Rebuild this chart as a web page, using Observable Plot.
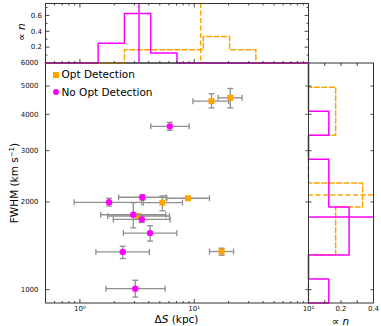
<!DOCTYPE html>
<html><head><meta charset="utf-8">
<script src="https://cdn.jsdelivr.net/npm/d3@7"></script>
<script src="https://cdn.jsdelivr.net/npm/@observablehq/plot@0.6"></script>
<style>
body{margin:0;background:#fff;font-family:"DejaVu Sans",sans-serif;}
#wrap{position:relative;width:381px;height:326px;overflow:hidden;background:#fff;}
#wrap svg{position:absolute;left:0;top:0;}
.lbl{position:absolute;white-space:nowrap;font-size:10.5px;line-height:1;color:#000;font-family:"DejaVu Sans",sans-serif;}
.mk{position:absolute;}
</style></head><body><div id="wrap"></div>
<script>
// ---- data ----
// Opt Detection (orange squares)
const optX   = [8.81, 5.27, 3.25, 17.36, 14.18, 20.7];
const optXlo = [5.76, 3.59, 1.75, 13.6, 9.74, 16.2];
const optXhi = [13.6, 7.90, 6.07, 22.1, 20.0, 26.2];
const optY   = [2060, 1989, 1790, 1352, 4437, 4557];
const optYlo = [2035, 1866, 1765, 1313, 4208, 4208];
const optYhi = [2085, 2098, 1815, 1388, 4703, 4906];
// No Opt Detection (magenta circles)
const noX   = [1.80, 3.52, 2.93, 3.48, 4.11, 2.37, 3.05, 6.12];
const noXlo = [0.891, 2.18, 1.52, 1.96, 2.40, 1.38, 1.69, 4.17];
const noXhi = [3.48, 5.68, 5.65, 6.16, 7.05, 4.05, 5.57, 9.04];
const noY   = [1995, 2076, 1808, 1743, 1564, 1348, 1008, 3637];
const noYlo = [1937, 2032, 1631, 1700, 1468, 1279, 943, 3524];
const noYhi = [2060, 2114, 1989, 1790, 1657, 1410, 1077, 3754];
// histograms (normalised counts) and bin edges
const xBinEdges  = [0.5, 0.849, 1.443, 2.451, 4.163, 7.071, 12.01, 20.40, 34.65, 58.85, 100];
const xHistOpt   = [0, 0, 0, 0.167, 0.167, 0.167, 0.333, 0.167, 0, 0];
const xHistNoOpt = [0, 0, 0.25, 0.625, 0.125, 0, 0, 0, 0, 0];
const yBinEdges  = [900, 1088, 1315, 1589, 1921, 2322, 2806, 3392, 4099, 4955, 6000];
const yHistOpt   = [0, 0, 0.167, 0.167, 0.333, 0, 0, 0.167, 0.167, 0];
const yHistNoOpt = [0.125, 0, 0.25, 0.25, 0.125, 0.125, 0, 0.125, 0, 0];
// medians [Opt, No Opt]
const medianX = [11.4, 3.29];
const medianY = [2115, 1775];
// ticks
const xMajorTicks = [1, 10, 100];
const xTickLabels = ["10⁰", "10¹", "10²"];
const xMinorTicks = [0.6,0.7,0.8,0.9,2,3,4,5,6,7,8,9,20,30,40,50,60,70,80,90];
const yTicks = [1000, 2000, 3000, 4000, 5000, 6000];
const histYTicks = [0.2, 0.4, 0.6];
const histYMinor = [0.1, 0.3, 0.5, 0.7];
const histXTicks = [0.2, 0.4];
const histXMinor = [0.1, 0.2, 0.3];

// ---- styling ----
const W = 381, H = 326;
const L = 45, R = 308, T = 62.5, B = 302.5, TT = 3, RR = 373;
const ORANGE = "#ffa500", MAGENTA = "#ff00ff", GRAY = "#8f8f8f", AXIS = "#333";
const DASH = "5,2.5";
const sym = (x1,y1,x2,y2) => ({draw(c){c.moveTo(x1,y1);c.lineTo(x2,y2);}});
const up = l => sym(0,0,0,-l), down = l => sym(0,0,0,l), toR = l => sym(0,0,l,0), toL = l => sym(0,0,-l,0);
const vCap = sym(0,-3,0,3), hCap = sym(-3,0,3,0);
const tk = (vals, ch, anchor, symbol) => Plot.dot(vals, {[ch]: d => d, frameAnchor: anchor, symbol, r: 1, fill: "none", stroke: AXIS, strokeWidth: 0.9});
const svgStyle = {background: "transparent", overflow: "visible", fontFamily: "DejaVu Sans, sans-serif", fontSize: "7px", color: "#111"};

const opt = optX.map((x,i) => ({x, xlo: optXlo[i], xhi: optXhi[i], y: optY[i], ylo: optYlo[i], yhi: optYhi[i]}));
const no  = noX.map((x,i) => ({x, xlo: noXlo[i], xhi: noXhi[i], y: noY[i], ylo: noYlo[i], yhi: noYhi[i]}));

function errMarks(data) {
  return [
    Plot.link(data, {x1: "xlo", x2: "xhi", y1: "y", y2: "y", stroke: GRAY, strokeWidth: 1.3}),
    Plot.link(data, {x1: "x", x2: "x", y1: "ylo", y2: "yhi", stroke: GRAY, strokeWidth: 1.3}),
    Plot.dot(data, {x: "xlo", y: "y", symbol: vCap, r: 1, fill: "none", stroke: GRAY, strokeWidth: 1.3}),
    Plot.dot(data, {x: "xhi", y: "y", symbol: vCap, r: 1, fill: "none", stroke: GRAY, strokeWidth: 1.3}),
    Plot.dot(data, {x: "x", y: "ylo", symbol: hCap, r: 1, fill: "none", stroke: GRAY, strokeWidth: 1.3}),
    Plot.dot(data, {x: "x", y: "yhi", symbol: hCap, r: 1, fill: "none", stroke: GRAY, strokeWidth: 1.3})
  ];
}

// step outline of a histogram
function stepX(edges, counts) {
  const pts = [{x: edges[0], y: 0}];
  counts.forEach((c,i) => { pts.push({x: edges[i], y: c}, {x: edges[i+1], y: c}); });
  pts.push({x: edges[edges.length-1], y: 0});
  return pts;
}
function stepY(edges, counts) {
  const pts = [{x: 0, y: edges[0]}];
  counts.forEach((c,i) => { pts.push({x: c, y: edges[i]}, {x: c, y: edges[i+1]}); });
  pts.push({x: 0, y: edges[edges.length-1]});
  return pts;
}

const main = Plot.plot({
  width: W, height: H, marginLeft: L, marginRight: W - R, marginTop: T, marginBottom: H - B,
  style: svgStyle,
  x: {type: "log", domain: [0.5, 100], ticks: xMajorTicks, tickFormat: d => xTickLabels[xMajorTicks.indexOf(d)], tickSize: 0, tickPadding: 3.5, label: null},
  y: {type: "log", domain: [900, 6000], ticks: yTicks, tickFormat: d => String(d), tickSize: 0, tickPadding: 7, label: null},
  marks: [
    ...errMarks(opt),
    Plot.dot(opt, {x: "x", y: "y", symbol: "square", r: 3.4, fill: ORANGE, stroke: "none"}),
    ...errMarks(no),
    Plot.dot(no, {x: "x", y: "y", symbol: "circle", r: 3.2, fill: MAGENTA, stroke: "none"}),
    tk(xMajorTicks.slice(0,2), "x", "bottom", up(4)),
    tk(xMinorTicks, "x", "bottom", up(2)),
    tk(yTicks, "y", "left", toR(4)),
    tk(yTicks.slice(0,5), "y", "right", toL(3)),
    Plot.frame({stroke: AXIS, strokeWidth: 1})
  ]
});

const topP = Plot.plot({
  width: W, height: H, marginLeft: L, marginRight: W - R, marginTop: TT, marginBottom: H - T,
  style: svgStyle,
  x: {type: "log", domain: [0.5, 100], axis: null},
  y: {domain: [0, 0.75], ticks: histYTicks, tickFormat: d => d.toFixed(1), tickSize: 0, tickPadding: 3.5, label: null},
  marks: [
    Plot.line(stepX(xBinEdges, xHistOpt), {x: "x", y: "y", stroke: ORANGE, strokeWidth: 1.5, strokeDasharray: DASH}),
    Plot.line(stepX(xBinEdges, xHistNoOpt), {x: "x", y: "y", stroke: MAGENTA, strokeWidth: 1.5}),
    Plot.ruleX([medianX[0]], {x: d => d, stroke: ORANGE, strokeWidth: 1.5, strokeDasharray: DASH}),
    Plot.ruleX([medianX[1]], {x: d => d, stroke: MAGENTA, strokeWidth: 1.5}),
    tk(xMajorTicks.slice(0,2), "x", "bottom", up(4)),
    tk(xMinorTicks, "x", "bottom", up(2)),
    tk(xMajorTicks.slice(0,2), "x", "top", down(4)),
    tk(xMinorTicks, "x", "top", down(2)),
    tk(histYTicks, "y", "left", toR(4)),
    tk(histYMinor, "y", "left", toR(2)),
    tk(histYTicks, "y", "right", toL(4)),
    tk(histYMinor, "y", "right", toL(2)),
    Plot.frame({stroke: AXIS, strokeWidth: 1})
  ]
});

const rightP = Plot.plot({
  width: W, height: H, marginLeft: R, marginRight: W - RR, marginTop: T, marginBottom: H - B,
  style: svgStyle,
  x: {domain: [0, 0.4], ticks: histXTicks, tickFormat: d => d.toFixed(1), tickSize: 0, tickPadding: 3.5, label: null},
  y: {type: "log", domain: [900, 6000], axis: null},
  marks: [
    Plot.line(stepY(yBinEdges, yHistOpt), {x: "x", y: "y", stroke: ORANGE, strokeWidth: 1.5, strokeDasharray: DASH}),
    Plot.line(stepY(yBinEdges, yHistNoOpt), {x: "x", y: "y", stroke: MAGENTA, strokeWidth: 1.5}),
    Plot.ruleY([medianY[0]], {y: d => d, stroke: ORANGE, strokeWidth: 1.5, strokeDasharray: DASH}),
    Plot.ruleY([medianY[1]], {y: d => d, stroke: MAGENTA, strokeWidth: 1.5}),
    tk(histXMinor, "x", "top", down(3)),
    tk(histXMinor, "x", "bottom", up(3)),
    tk(yTicks.slice(0,5), "y", "left", toR(3)),
    tk(yTicks.slice(0,5), "y", "right", toL(3)),
    Plot.frame({stroke: AXIS, strokeWidth: 1})
  ]
});

const wrap = document.getElementById("wrap");
wrap.append(main, topP, rightP);

// axis titles and legend as real text
function addLabel(html, cx, cy, rotate) {
  const d = document.createElement("div");
  d.className = "lbl";
  d.innerHTML = html;
  d.style.left = cx + "px";
  d.style.top = cy + "px";
  d.style.transform = "translate(-50%,-50%)" + (rotate ? " rotate(-90deg)" : "");
  wrap.append(d);
}
addLabel("FWHM (km s<sup style='font-size:7px;vertical-align:4px;line-height:0'>−1</sup>)", 14, 183, true);
addLabel("∝ <i>n</i>", 21, 32, true);
addLabel("Δ<i>S</i> (kpc)", 176.5, 319, false);
addLabel("∝ <i>n</i>", 340.5, 321, false);

const legendItems = [
  {text: "Opt Detection", color: ORANGE, round: false, cy: 74.5},
  {text: "No Opt Detection", color: MAGENTA, round: true, cy: 91.7}
];
legendItems.forEach(it => {
  const m = document.createElement("div");
  m.className = "mk";
  m.style.cssText = `left:${56-3}px;top:${it.cy-3}px;width:6px;height:6px;background:${it.color};border-radius:${it.round ? "50%" : "0"};`;
  wrap.append(m);
  const t = document.createElement("div");
  t.className = "lbl";
  t.textContent = it.text;
  t.style.left = "61.5px";
  t.style.top = (it.cy - 5.2) + "px";
  wrap.append(t);
});
</script></body></html>
